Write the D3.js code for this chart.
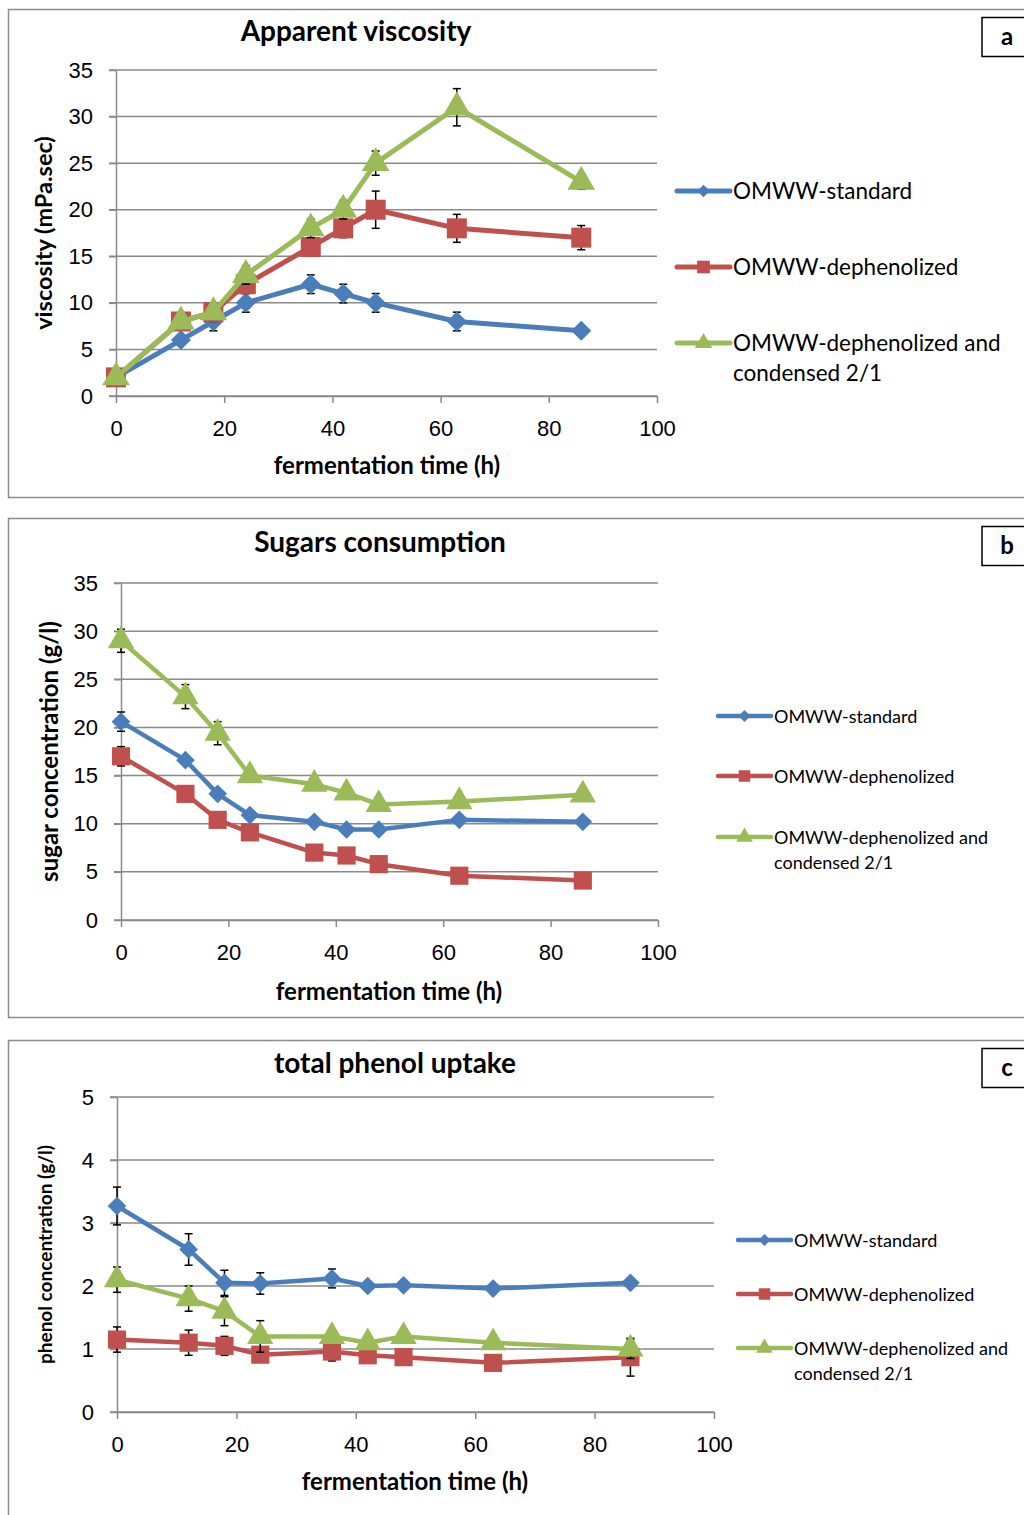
<!DOCTYPE html>
<html>
<head>
<meta charset="utf-8">
<script src="https://cdn.jsdelivr.net/npm/d3@7"></script>
<style>
  body { margin: 0; background: #fff; }
  svg { display: block; font-family: Lato, "Open Sans", sans-serif; }
  .grid line { stroke: #8a8a8a; stroke-width: 1.5; }
  .axis path, .axis line { stroke: #8a8a8a; stroke-width: 1.5; }
  .axis text { fill: #000; }
</style>
</head>
<body>
<svg id="chart" width="1024" height="1515"></svg>
<script>
// fermentation time points (h)
const times = [0, 12, 18, 24, 36, 42, 48, 63, 86];
const seriesNames = ['OMWW-standard', 'OMWW-dephenolized', 'OMWW-dephenolized and condensed 2/1'];
const xTicks = [0, 20, 40, 60, 80, 100];

// a: apparent viscosity (mPa.sec)
const viscStandard = [2, 6, 8, 10, 12, 11, 10, 8, 7];
const viscDephen = [2, 8, 9, 12, 16, 18, 20, 18, 17];
const viscCondensed = [2, 8, 9, 13, 18, 20, 25, 31, 23];
const viscStandardErr = [0.3, 0.5, 1, 1, 1, 1, 1, 1, 0.4];
const viscDephenErr = [0.3, 0.5, 1, 1, 1, 1, 2, 1.5, 1.3];
const viscCondensedErr = [0.3, 0.5, 0.5, 1, 1, 1, 1.3, 2, 0.8];

// b: sugar concentration (g/l)
const sugarStandard = [20.6, 16.6, 13.1, 10.9, 10.2, 9.4, 9.4, 10.4, 10.2];
const sugarDephen = [17.0, 13.1, 10.4, 9.1, 7.0, 6.7, 5.8, 4.6, 4.1];
const sugarCondensed = [29.0, 23.2, 19.4, 15.0, 14.1, 13.2, 12.0, 12.3, 13.0];
const sugarStandardErr = [1.0, 0.3, 0.3, 0.3, 0.3, 0.3, 0.3, 0.3, 0.3];
const sugarDephenErr = [1.0, 0.3, 0.3, 0.3, 0.3, 0.3, 0.3, 0.3, 0.3];
const sugarCondensedErr = [1.2, 1.25, 1.2, 0.6, 0.6, 0.5, 0.4, 0.5, 0.6];

// c: phenol concentration (g/l)
const phenolStandard = [3.27, 2.58, 2.05, 2.04, 2.12, 2.0, 2.01, 1.96, 2.05];
const phenolDephen = [1.15, 1.1, 1.05, 0.91, 0.96, 0.9, 0.87, 0.78, 0.87];
const phenolCondensed = [2.1, 1.8, 1.6, 1.2, 1.2, 1.1, 1.2, 1.1, 1.0];
const phenolStandardErr = [0.3, 0.25, 0.2, 0.17, 0.15, 0.05, 0.05, 0.05, 0.05];
const phenolDephenErr = [0.2, 0.2, 0.15, 0.05, 0.15, 0.05, 0.05, 0.05, 0.3];
const phenolCondensedErr = [0.2, 0.2, 0.23, 0.25, 0.1, 0.1, 0.1, 0.1, 0.15];

const colors = ['#4a7ebb', '#c0504d', '#9bbb59'];
// diamond = square turned 45 degrees
const markers = [d3.symbolSquare, d3.symbolSquare, d3.symbolTriangle];
const markerTurn = [' rotate(45)', '', ''];

const panels = [
  {
    label: 'a', title: 'Apparent viscosity', yTitle: 'viscosity (mPa.sec)',
    top: 9, bottom: 497, titleX: 356, titleY: 34,
    left: 116, right: 657, plotTop: 70, plotBottom: 396,
    yTicks: [0, 5, 10, 15, 20, 25, 30, 35],
    series: [viscStandard, viscDephen, viscCondensed],
    errors: [viscStandardErr, viscDephenErr, viscCondensedErr],
    yTitleX: 46, yTitleSize: 23.5, xTitleX: 387, xTitleY: 468,
    tickSize: 22, lineWidth: 5, markerSize: [200, 400, 330],
    legendX: 677, legendY: [191, 267, 343], legendSize: 22.5, legendGap: 30
  },
  {
    label: 'b', title: 'Sugars consumption', yTitle: 'sugar concentration (g/l)',
    top: 518, bottom: 1017, titleX: 380, titleY: 545,
    left: 121, right: 658, plotTop: 583, plotBottom: 920,
    yTicks: [0, 5, 10, 15, 20, 25, 30, 35],
    series: [sugarStandard, sugarDephen, sugarCondensed],
    errors: [sugarStandardErr, sugarDephenErr, sugarCondensedErr],
    yTitleX: 52, yTitleSize: 24, xTitleX: 389, xTitleY: 994,
    tickSize: 22, lineWidth: 4.5, markerSize: [175, 330, 300],
    legendX: 718, legendY: [716, 776, 837], legendSize: 18, legendGap: 25
  },
  {
    label: 'c', title: 'total phenol uptake', yTitle: 'phenol concentration (g/l)',
    top: 1040, bottom: 1530, titleX: 395, titleY: 1066,
    left: 117, right: 714, plotTop: 1097, plotBottom: 1412,
    yTicks: [0, 1, 2, 3, 4, 5],
    series: [phenolStandard, phenolDephen, phenolCondensed],
    errors: [phenolStandardErr, phenolDephenErr, phenolCondensedErr],
    yTitleX: 47, yTitleSize: 19, xTitleX: 415, xTitleY: 1484,
    tickSize: 22, lineWidth: 4.5, markerSize: [175, 330, 300],
    legendX: 738, legendY: [1240, 1294, 1348], legendSize: 18, legendGap: 25
  }
];

const svg = d3.select('#chart');

panels.forEach(p => {
  const g = svg.append('g');

  // panel frame
  g.append('rect')
    .attr('x', 8.5).attr('y', p.top + 0.5)
    .attr('width', 1100).attr('height', p.bottom - p.top)
    .attr('fill', '#fff').attr('stroke', '#8c8c8c').attr('stroke-width', 1.5);

  // corner label box
  g.append('rect')
    .attr('x', 982).attr('y', p.top + 8.5)
    .attr('width', 60).attr('height', 39)
    .attr('fill', '#fff').attr('stroke', '#000').attr('stroke-width', 1.5);
  g.append('text')
    .attr('x', 1007).attr('y', p.top + 30)
    .attr('text-anchor', 'middle').attr('dominant-baseline', 'middle')
    .attr('font-size', 24).attr('font-weight', 'bold')
    .text(p.label);

  g.append('text')
    .attr('x', p.titleX).attr('y', p.titleY)
    .attr('text-anchor', 'middle').attr('dominant-baseline', 'middle')
    .attr('font-size', 28).attr('font-weight', 'bold')
    .text(p.title);

  const x = d3.scaleLinear().domain([0, 100]).range([p.left, p.right]);
  const y = d3.scaleLinear().domain([0, d3.max(p.yTicks)]).range([p.plotBottom, p.plotTop]);

  // horizontal gridlines
  g.append('g').classed('grid', true)
    .selectAll('line')
    .data(p.yTicks)
    .join('line')
    .attr('x1', p.left - 7).attr('x2', p.right)
    .attr('y1', d => y(d)).attr('y2', d => y(d));

  g.append('g').classed('axis', true)
    .attr('transform', `translate(${p.left},0)`)
    .call(d3.axisLeft(y).tickValues(p.yTicks).tickFormat(d3.format('d'))
      .tickSize(7).tickSizeOuter(0).tickPadding(16))
    .call(a => a.selectAll('text').attr('font-size', p.tickSize).attr('font-family', null));

  g.append('g').classed('axis', true)
    .attr('transform', `translate(0,${p.plotBottom})`)
    .call(d3.axisBottom(x).tickValues(xTicks).tickSize(7).tickSizeOuter(0).tickPadding(17))
    .call(a => a.selectAll('text').attr('font-size', p.tickSize).attr('font-family', null));

  g.append('text')
    .attr('x', p.xTitleX).attr('y', p.xTitleY)
    .attr('text-anchor', 'middle').attr('dominant-baseline', 'middle')
    .attr('font-size', 24).attr('font-weight', 'bold')
    .text('fermentation time (h)');

  g.append('text')
    .attr('transform', `translate(${p.yTitleX},${(p.plotTop + p.plotBottom) / 2}) rotate(-90)`)
    .attr('text-anchor', 'middle').attr('dominant-baseline', 'middle')
    .attr('font-size', p.yTitleSize).attr('font-weight', 'bold')
    .text(p.yTitle);

  const line = d3.line()
    .x((d, i) => x(times[i]))
    .y(d => y(d));

  p.series.forEach((values, s) => {
    const sg = g.append('g');
    sg.append('path')
      .attr('d', line(values))
      .attr('fill', 'none')
      .attr('stroke', colors[s])
      .attr('stroke-width', p.lineWidth)
      .attr('stroke-linejoin', 'round');

    // error bars (under the markers)
    const err = p.errors[s];
    const eg = sg.append('g').attr('stroke', '#000').attr('stroke-width', 1.5);
    values.forEach((v, i) => {
      const cx = x(times[i]);
      const yHi = y(v + err[i]);
      const yLo = y(v - err[i]);
      eg.append('line').attr('x1', cx).attr('x2', cx).attr('y1', yHi).attr('y2', yLo);
      eg.append('line').attr('x1', cx - 4).attr('x2', cx + 4).attr('y1', yHi).attr('y2', yHi);
      eg.append('line').attr('x1', cx - 4).attr('x2', cx + 4).attr('y1', yLo).attr('y2', yLo);
    });

    sg.selectAll('path.marker')
      .data(values)
      .join('path')
      .classed('marker', true)
      .attr('transform', (d, i) => `translate(${x(times[i])},${y(d)})` + markerTurn[s])
      .attr('d', d3.symbol().type(markers[s]).size(p.markerSize[s]))
      .attr('fill', colors[s]);

    // legend entry
    const ly = p.legendY[s];
    const lg = g.append('g');
    lg.append('line')
      .attr('x1', p.legendX).attr('x2', p.legendX + 53)
      .attr('y1', ly).attr('y2', ly)
      .attr('stroke', colors[s]).attr('stroke-width', p.lineWidth)
      .attr('stroke-linecap', 'round');
    lg.append('path')
      .attr('transform', `translate(${p.legendX + 26.5},${ly})` + markerTurn[s])
      .attr('d', d3.symbol().type(markers[s]).size(p.markerSize[s] * 0.4))
      .attr('fill', colors[s]);
    const words = s === 2 ? ['OMWW-dephenolized and', 'condensed 2/1'] : [seriesNames[s]];
    words.forEach((w, k) => {
      lg.append('text')
        .attr('x', p.legendX + 56).attr('y', ly + 2 + k * p.legendGap)
        .attr('dominant-baseline', 'middle')
        .attr('font-size', p.legendSize)
        .text(w);
    });
  });
});
</script>
</body>
</html>
